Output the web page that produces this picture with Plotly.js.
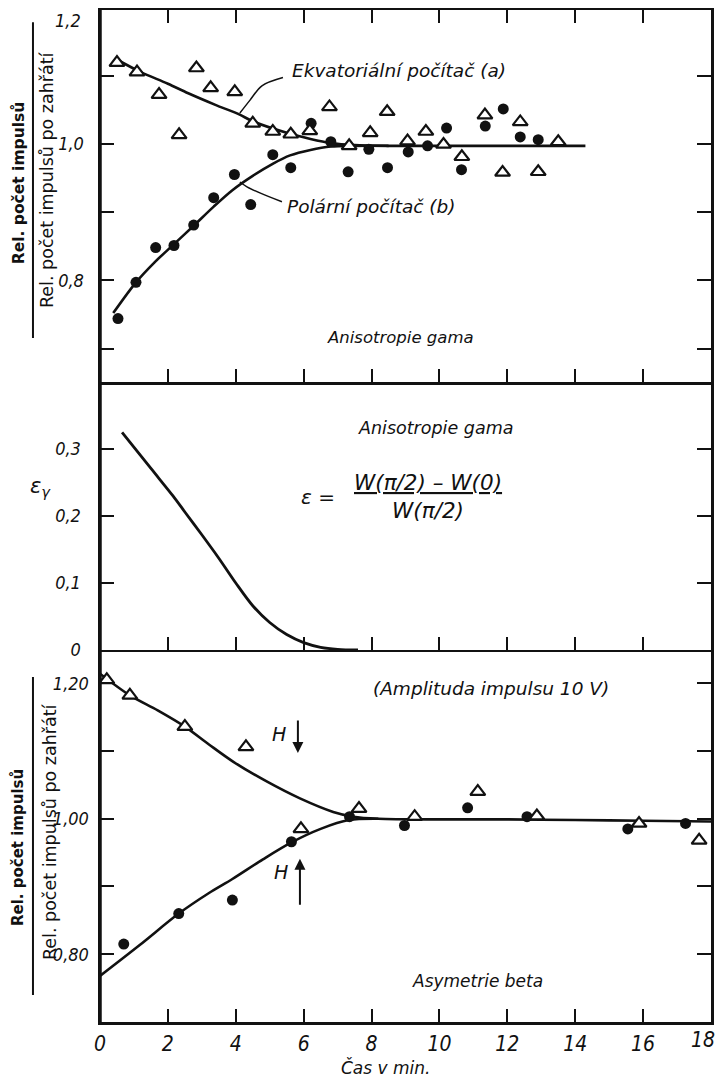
<!DOCTYPE html>
<html>
<head>
<meta charset="utf-8">
<script src="https://cdn.plot.ly/plotly-3.0.1.min.js"></script>
<style>html,body{margin:0;padding:0;background:#fff;}#chart{width:718px;height:1081px;}</style>
</head>
<body>
<div id="chart"></div>
<script>
// ---------- Panel 1: Anisotropie gama (relative counts) ----------
const ekvTriX = [0.5, 1.09, 1.74, 2.33, 2.84, 3.26, 3.97, 4.5, 5.09, 5.62, 6.18, 6.76, 7.34, 7.96, 8.46, 9.06, 9.6, 10.12, 10.66, 11.34, 11.86, 12.38, 12.91, 13.5];
const ekvTriY = [1.119, 1.105, 1.072, 1.013, 1.111, 1.082, 1.076, 1.03, 1.018, 1.014, 1.019, 1.054, 0.997, 1.016, 1.047, 1.004, 1.018, 0.999, 0.981, 1.042, 0.958, 1.032, 0.959, 1.003];
const polDotX = [0.53, 1.06, 1.64, 2.18, 2.76, 3.35, 3.96, 4.44, 5.09, 5.62, 6.22, 6.8, 7.31, 7.92, 8.47, 9.08, 9.65, 10.21, 10.65, 11.35, 11.88, 12.38, 12.91];
const polDotY = [0.744, 0.797, 0.848, 0.851, 0.881, 0.921, 0.955, 0.911, 0.984, 0.965, 1.03, 1.003, 0.959, 0.992, 0.965, 0.988, 0.997, 1.023, 0.962, 1.026, 1.051, 1.01, 1.006];
const ekvCurveX = [0.55, 1.2, 2.0, 2.6, 3.4, 4.1, 4.5, 5.5, 6.2, 6.8, 7.5, 8.5, 10, 12, 14.3];
const ekvCurveY = [1.122, 1.105, 1.088, 1.074, 1.057, 1.043, 1.033, 1.016, 1.007, 1.001, 0.998, 0.997, 0.997, 0.997, 0.997];
const polCurveX = [0.39, 1.06, 1.6, 2.18, 2.76, 3.35, 3.9, 4.5, 5.1, 5.6, 6.2, 6.8, 7.5, 8.5];
const polCurveY = [0.752, 0.797, 0.826, 0.853, 0.88, 0.908, 0.932, 0.953, 0.971, 0.983, 0.991, 0.996, 0.997, 0.997];
const ekvLeaderX = [5.39, 4.77, 4.42, 4.12];
const ekvLeaderY = [1.097, 1.085, 1.064, 1.045];
const polLeaderX = [5.36, 4.71, 4.33, 4.12];
const polLeaderY = [0.915, 0.928, 0.937, 0.944];

// ---------- Panel 2: epsilon gamma ----------
const epsX = [0.65, 1.5, 2.15, 2.5, 3.0, 3.5, 4.0, 4.5, 5.0, 5.5, 6.0, 6.5, 7.0, 7.6];
const epsY = [0.325, 0.271, 0.23, 0.206, 0.172, 0.137, 0.1, 0.066, 0.041, 0.023, 0.011, 0.004, 0.001, 0];

// ---------- Panel 3: Asymetrie beta ----------
const betaTriX = [0.2, 0.88, 2.5, 4.3, 5.92, 7.63, 9.27, 11.13, 12.87, 15.88, 17.65];
const betaTriY = [1.205, 1.182, 1.136, 1.106, 0.985, 1.015, 1.003, 1.04, 1.004, 0.993, 0.968];
const betaDotX = [0.7, 2.32, 3.9, 5.64, 7.35, 8.97, 10.83, 12.58, 15.55, 17.25];
const betaDotY = [0.815, 0.86, 0.88, 0.966, 1.003, 0.99, 1.016, 1.003, 0.985, 0.993];
const betaUpX = [0, 0.88, 1.7, 2.5, 3.2, 3.93, 4.91, 5.89, 6.87, 7.46, 8.2, 10, 12, 14, 16, 18];
const betaUpY = [1.214, 1.182, 1.16, 1.136, 1.11, 1.084, 1.055, 1.03, 1.01, 1.003, 1.0, 0.999, 0.999, 0.998, 0.997, 0.996];
const betaLoX = [0, 1.18, 2.32, 3.2, 3.9, 4.8, 5.64, 6.5, 7.33, 8.2];
const betaLoY = [0.768, 0.814, 0.86, 0.89, 0.911, 0.94, 0.965, 0.985, 0.998, 1.0];

// ---------- Tick labels ----------
const xTickVals = [0, 2, 4, 6, 8, 10, 12, 14, 16, 18];
const xTickText = ['0', '2', '4', '6', '8', '10', '12', '14', '16', '18'];
const xInnerTicks = [2, 4, 6, 8, 10, 12, 14, 16];
const y1TickVals = [0.7, 0.8, 0.9, 1.0, 1.1];
const y1TickText = ['', '0,8', '', '1,0', ''];
const y1TopLabel = '1,2';
const y2TickVals = [0, 0.1, 0.2, 0.3];
const y2TickText = ['0', '0,1', '0,2', '0,3'];
const y3TickVals = [0.8, 0.9, 1.0, 1.1, 1.2];
const y3TickText = ['0,80', '', '1,00', '', '1,20'];

const BLACK = '#111';
const FONT = 'DejaVu Sans, Liberation Sans, sans-serif';
const TICKFONT = 'Liberation Sans Narrow, DejaVu Sans Condensed, Liberation Sans, sans-serif';
const italic = (size) => ({family: FONT, size: size, color: BLACK, style: 'italic'});
const tickItalic = (size) => ({family: TICKFONT, size: size, color: BLACK, style: 'italic'});

function curve(x, y, xa, ya, w) {
  return {x: x, y: y, xaxis: xa, yaxis: ya, mode: 'lines', hoverinfo: 'skip',
          line: {color: BLACK, width: w || 2.6, shape: 'spline', smoothing: 0.9}};
}
function tri(x, y, xa, ya) {
  return {x: x, y: y, xaxis: xa, yaxis: ya, mode: 'markers',
          marker: {symbol: 'triangle-up', size: 13, color: 'white', line: {color: BLACK, width: 2.2}}};
}
function dot(x, y, xa, ya) {
  return {x: x, y: y, xaxis: xa, yaxis: ya, mode: 'markers',
          marker: {symbol: 'circle', size: 11, color: BLACK, line: {width: 0}}};
}

const data = [
  curve(ekvCurveX, ekvCurveY, 'x', 'y'),
  curve(polCurveX, polCurveY, 'x', 'y'),
  curve(ekvLeaderX, ekvLeaderY, 'x', 'y', 1.5),
  curve(polLeaderX, polLeaderY, 'x', 'y', 1.5),
  dot(polDotX, polDotY, 'x', 'y'),
  tri(ekvTriX, ekvTriY, 'x', 'y'),
  curve(epsX, epsY, 'x2', 'y2', 2.8),
  curve(betaUpX, betaUpY, 'x3', 'y3'),
  curve(betaLoX, betaLoY, 'x3', 'y3'),
  dot(betaDotX, betaDotY, 'x3', 'y3'),
  tri(betaTriX, betaTriY, 'x3', 'y3')
];

// last x label is drawn as an annotation, right-aligned to the page edge
const lastIdx = xTickText.length - 1;
const xTickTextShown = xTickText.map((t, i) => (i === lastIdx ? '' : t));

const xBase = {range: [0, 18], showgrid: false, zeroline: false, showline: true, linecolor: BLACK,
  linewidth: 2.5, ticks: 'inside', ticklen: 13, tickwidth: 2, tickcolor: BLACK, fixedrange: true};
const yBase = {showgrid: false, zeroline: false, showline: true, linecolor: BLACK, linewidth: 2.5,
  ticks: 'inside', ticklen: 14, tickwidth: 2, tickcolor: BLACK, mirror: 'ticks', tickfont: tickItalic(18), fixedrange: true};

function ann(o) { return Object.assign({showarrow: false, xanchor: 'center', yanchor: 'middle'}, o); }

const layout = {
  width: 718, height: 1081,
  margin: {l: 100, r: 7, t: 10, b: 59},
  paper_bgcolor: 'white', plot_bgcolor: 'white',
  showlegend: false,
  xaxis: Object.assign({}, xBase, {anchor: 'y', tickvals: xInnerTicks, showticklabels: false, mirror: 'ticks'}),
  xaxis2: Object.assign({}, xBase, {anchor: 'y2', tickvals: xInnerTicks, showticklabels: false}),
  xaxis3: Object.assign({}, xBase, {anchor: 'y3', tickvals: xTickVals, ticktext: xTickTextShown, tickfont: tickItalic(21), ticklabelstandoff: 1}),
  yaxis: Object.assign({}, yBase, {domain: [0.6324, 1], range: [0.651, 1.196], anchor: 'x', tickvals: y1TickVals, ticktext: y1TickText, ticklabelstandoff: 10}),
  yaxis2: Object.assign({}, yBase, {domain: [0.3676, 0.6324], range: [0, 0.4], anchor: 'x2', tickvals: y2TickVals, ticktext: y2TickText, ticklabelstandoff: 13}),
  yaxis3: Object.assign({}, yBase, {domain: [0, 0.3676], range: [0.70, 1.249], anchor: 'x3', tickvals: y3TickVals, ticktext: y3TickText, ticklabelstandoff: 5}),
  shapes: [
    {type: 'line', xref: 'paper', yref: 'paper', x0: -0.1097, x1: -0.1097, y0: 0.676, y1: 0.988, line: {color: BLACK, width: 2}},
    {type: 'line', xref: 'paper', yref: 'paper', x0: -0.1097, x1: -0.1097, y0: 0.0267, y1: 0.341, line: {color: BLACK, width: 2}},
    {type: 'line', xref: 'paper', yref: 'paper', x0: 0, x1: 0, y0: 0, y1: 1, line: {color: BLACK, width: 3.5}}
  ],
  annotations: [
    ann({xref: 'paper', yref: 'paper', x: -0.028, y: 1.002, xanchor: 'right', yanchor: 'top', text: y1TopLabel, font: tickItalic(18)}),
    ann({xref: 'paper', yref: 'paper', x: 1.0098, y: -0.0178, xanchor: 'right', text: xTickText[lastIdx], font: tickItalic(21)}),
    ann({xref: 'x', yref: 'y', x: 8.81, y: 1.108, text: 'Ekvatoriální počítač (a)', font: italic(18.5)}),
    ann({xref: 'x', yref: 'y', x: 8.01, y: 0.908, text: 'Polární počítač (b)', font: italic(18.5)}),
    ann({xref: 'x', yref: 'y', x: 8.84, y: 0.716, text: 'Anisotropie gama', font: italic(16.5)}),
    ann({xref: 'x2', yref: 'y2', x: 9.87, y: 0.331, text: 'Anisotropie gama', font: italic(17.5)}),
    ann({xref: 'x2', yref: 'y2', x: 6.42, y: 0.228, text: 'ε =', font: italic(20)}),
    ann({xref: 'x2', yref: 'y2', x: 9.66, y: 0.229, text: '<u>W(π/2) – W(0)</u><br>W(π/2)', font: italic(21.5)}),
    ann({xref: 'paper', yref: 'paper', x: -0.098, y: 0.5287, text: 'ε<sub>γ</sub>', font: italic(21)}),
    ann({xref: 'x3', yref: 'y3', x: 11.52, y: 1.192, text: '(Amplituda impulsu 10 V)', font: italic(18.5)}),
    ann({xref: 'x3', yref: 'y3', x: 11.11, y: 0.761, text: 'Asymetrie beta', font: italic(17)}),
    ann({xref: 'x3', yref: 'y3', x: 5.27, y: 1.125, text: 'H', font: italic(19)}),
    ann({xref: 'x3', yref: 'y3', x: 5.33, y: 0.922, text: 'H', font: italic(19)}),
    {xref: 'x3', yref: 'y3', axref: 'x3', ayref: 'y3', x: 5.83, y: 1.097, ax: 5.83, ay: 1.147, text: '', showarrow: true, arrowhead: 2, arrowsize: 1.1, arrowwidth: 2, arrowcolor: BLACK},
    {xref: 'x3', yref: 'y3', axref: 'x3', ayref: 'y3', x: 5.89, y: 0.941, ax: 5.89, ay: 0.871, text: '', showarrow: true, arrowhead: 2, arrowsize: 1.1, arrowwidth: 2, arrowcolor: BLACK},
    ann({xref: 'paper', yref: 'paper', x: 0.468, y: -0.0445, text: 'Čas v min.', font: italic(17)}),
    ann({xref: 'paper', yref: 'paper', x: -0.134, y: 0.829, textangle: -90, text: '<b>Rel. počet impulsů</b>', font: {family: FONT, size: 15.5, color: BLACK}}),
    ann({xref: 'paper', yref: 'paper', x: -0.0867, y: 0.832, textangle: -90, text: 'Rel. počet impulsů po zahřátí', font: {family: FONT, size: 17.5, color: BLACK}}),
    ann({xref: 'paper', yref: 'paper', x: -0.134, y: 0.172, textangle: -90, text: '<b>Rel. počet impulsů</b>', font: {family: FONT, size: 15, color: BLACK}}),
    ann({xref: 'paper', yref: 'paper', x: -0.0818, y: 0.1877, textangle: -90, text: 'Rel. počet impulsů po zahřátí', font: {family: FONT, size: 17.5, color: BLACK}})
  ]
};

Plotly.newPlot('chart', data, layout, {displayModeBar: false, staticPlot: true});
</script>
</body>
</html>
